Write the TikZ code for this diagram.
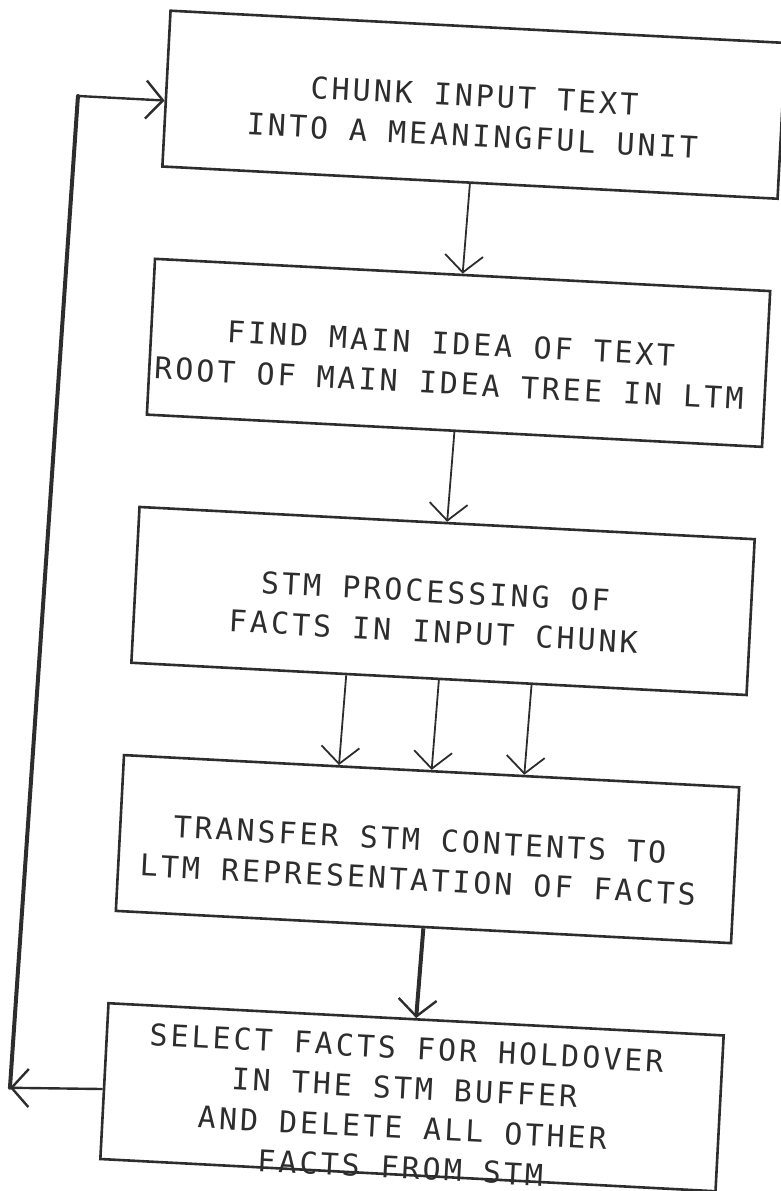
\documentclass[tikz,border=0pt]{standalone}
\usepackage{fontspec}
\newfontfamily\plotfont[LetterSpace=10]{DejaVu Sans Mono}
\usetikzlibrary{arrows.meta}
\usetikzlibrary{calc}
\usetikzlibrary{positioning}
\definecolor{ink}{RGB}{45,45,45}
\tikzset{stage/.style={draw=ink, line width=2.6pt, minimum width=616pt, minimum height=156pt, inner sep=0pt}}
\tikzset{stagetext/.style={text=ink, align=center, inner sep=0pt, font=\plotfont\fontsize{30}{40}\selectfont}}
\tikzset{next/.style={below=of #1, xshift=-2.5pt}}
\tikzset{flow/.style={->, draw=ink, line width=1.8pt}}
\tikzset{heavy/.style={-{Straight Barb[length=17pt,width=38pt,line width=2.4pt]}, draw=ink, line width=4pt}}

\begin{document}
\begin{tikzpicture}[x=1pt,y=-1pt,>={Straight Barb[length=17pt,width=38pt]}]
   \useasboundingbox (0,0) rectangle (781,1191);
   \begin{scope}[rotate around={-3:(390,600)}, transform shape, node distance=90pt]
   % the five stages, one below the other
   \node[stage] (chunk) at (448,101) {};
   \node[stage] (idea) [next=chunk] {};
   \node[stage] (stm) [next=idea] {};
   \node[stage] (transfer) [next=stm] {};
   \node[stage] (select) [next=transfer] {};

   \node[stagetext] (chunktxt) at ([yshift=-11pt]chunk.center)
      {CHUNK INPUT TEXT\\INTO A MEANINGFUL UNIT};
   \node[stagetext] (ideatxt) at ([xshift=-8pt,yshift=-11pt]idea.center)
      {FIND MAIN IDEA OF TEXT\\ROOT OF MAIN IDEA TREE IN LTM};
   \node[stagetext] (stmtxt) at ([xshift=-8pt,yshift=-11pt]stm.center)
      {STM PROCESSING OF\\FACTS IN INPUT CHUNK};
   \node[stagetext] (transfertxt) at ([xshift=-8pt,yshift=-11pt]transfer.center)
      {TRANSFER STM CONTENTS TO\\LTM REPRESENTATION OF FACTS};
   \node[stagetext] (selecttxt) at ([xshift=-8pt,yshift=-11pt]select.center)
      {SELECT FACTS FOR HOLDOVER\\IN THE STM BUFFER\\AND DELETE ALL OTHER\\FACTS FROM STM};

   \draw[flow] (chunk.south) -- (idea.north);
   \draw[flow] (idea.south) -- (stm.north);
   \draw[flow] ($(stm.south west)!0.35!(stm.south east)$) -- ($(transfer.north west)!0.35!(transfer.north east)$);
   \draw[flow] (stm.south) -- (transfer.north);
   \draw[flow] ($(stm.south west)!0.65!(stm.south east)$) -- ($(transfer.north west)!0.65!(transfer.north east)$);
   \draw[heavy] (transfer.south) -- (select.north);

   % loop back to the first stage
   \coordinate (lowturn) at (36,1107);
   \coordinate (topturn) at (52,113);
   \draw[flow, line width=2.4pt] ([yshift=-8pt]select.west) -- (lowturn);
   \draw[ink, line width=4pt, line cap=round] (lowturn) -- (topturn);
   \draw[flow, line width=2.4pt] (topturn) -- ([yshift=-12pt]chunk.west);
   \end{scope}
\end{tikzpicture}
\end{document}
